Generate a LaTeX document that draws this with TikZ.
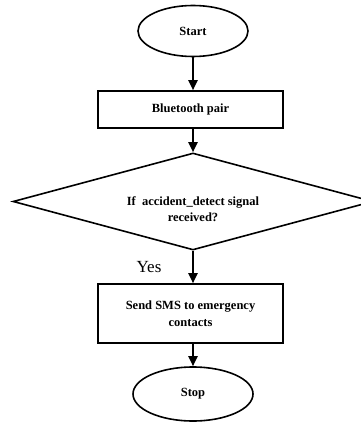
\documentclass[tikz,border=0pt]{standalone}
\usepackage{fontspec}
\setmainfont{Liberation Serif}
\usetikzlibrary{shapes.geometric,arrows.meta}

\tikzset{
  box/.style={draw, line width=1.6pt, rectangle, inner sep=0pt,
    minimum width=185pt, align=center,
    font=\fontsize{12.5}{16.5}\selectfont\bfseries},
  terminal/.style={draw, line width=1.6pt, ellipse, inner sep=0pt,
    font=\fontsize{12.5}{16.5}\selectfont\bfseries},
  decision/.style={draw, line width=1.6pt, diamond, inner sep=0pt,
    minimum width=360pt, minimum height=97pt},
  flowtext/.style={align=center, inner sep=0pt,
    font=\fontsize{12.5}{16.5}\selectfont\bfseries},
  arr/.style={line width=2pt, -{Triangle[length=10pt,width=9pt]}}
}

\begin{document}
\begin{tikzpicture}[x=1pt, y=-1pt]
  \useasboundingbox (0,0) rectangle (360,422);

  % terminals, process boxes and the decision
  \node[terminal, minimum width=110pt, minimum height=51pt] (start) at (193,31) {Start};
  \node[box, minimum height=37pt] (bt) at (190.5,109.5) {Bluetooth pair};
  \node[decision] (dec) at (193,201.5) {};
  \node[flowtext] (dectext) at (193,209) {If\ \ accident\_detect signal\\received?};
  \node[box, minimum height=59pt] (sms) at (190.5,313.5) {Send SMS to emergency\\contacts};
  \node[terminal, minimum width=120pt, minimum height=54pt] (stop) at (193,394) {Stop};

  \node[inner sep=0pt, font=\fontsize{17}{20}\selectfont] (yes) at (149,267) {Yes};

  % connectors
  \draw[arr] (start.south) -- (start.south |- bt.north);
  \draw[arr] (start.south |- bt.south) -- (dec.north);
  \draw[arr] (dec.south) -- (dec.south |- sms.north);
  \draw[arr] (dec.south |- sms.south) -- (stop.north);
\end{tikzpicture}
\end{document}
